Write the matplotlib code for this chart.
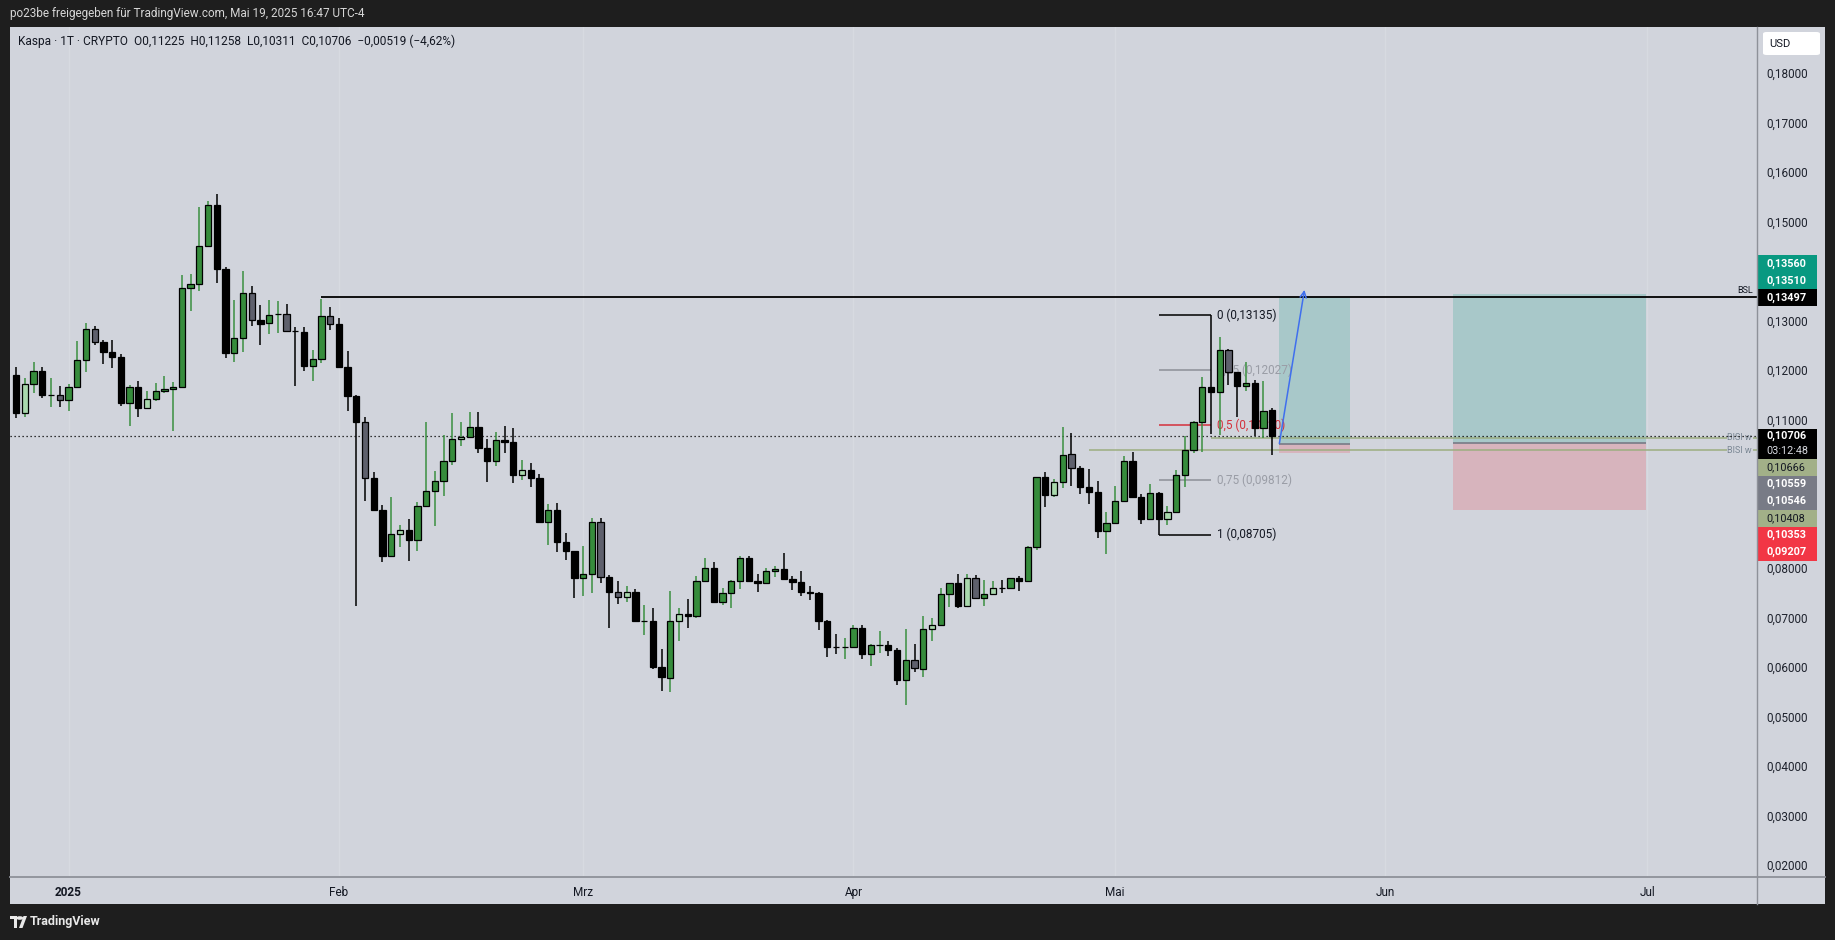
import numpy as np
import pandas as pd
import matplotlib
matplotlib.use("Agg")
import matplotlib.pyplot as plt
import matplotlib.dates as mdates
from matplotlib.patches import Rectangle, FancyBboxPatch, Polygon, Circle
from matplotlib.lines import Line2D

plt.rcParams['font.family'] = ['Roboto', 'DejaVu Sans']

# ---- daily candles, Kaspa 1T, first candle 2024-12-26 ----
first_day = "2024-12-26"
opens = [0.11933, 0.11159, 0.11751, 0.12014, 0.11529, 0.11529, 0.11428, 0.11691, 0.12236, 0.12862,
         0.12600, 0.12398, 0.12297, 0.11361, 0.11691, 0.11260, 0.11448, 0.11610, 0.11650, 0.11684,
         0.13691, 0.13771, 0.14539, 0.15367, 0.14075, 0.12371, 0.12681, 0.13590, 0.13044, 0.12984,
         0.13165, 0.13165, 0.12822, 0.12802, 0.12108, 0.12256, 0.13125, 0.12963, 0.12095, 0.11509,
         0.10984, 0.09852, 0.09206, 0.08270, 0.08714, 0.08801, 0.08592, 0.09279, 0.09589, 0.09791,
         0.10195, 0.10640, 0.10680, 0.10882, 0.10458, 0.10188, 0.10619, 0.10586, 0.09906, 0.10020,
         0.09858, 0.08956, 0.09212, 0.08565, 0.08377, 0.07825, 0.07913, 0.08963, 0.07859, 0.07549,
         0.07448, 0.07549, 0.06963, 0.06963, 0.06041, 0.05812, 0.06963, 0.07104, 0.07057, 0.07764,
         0.08034, 0.07347, 0.07529, 0.07771, 0.08236, 0.07778, 0.07724, 0.07973, 0.08014, 0.07812,
         0.07751, 0.07556, 0.07535, 0.06970, 0.06438, 0.06438, 0.06431, 0.06822, 0.06290, 0.06478,
         0.06478, 0.06384, 0.05764, 0.06175, 0.05993, 0.06794, 0.06882, 0.07508, 0.07731, 0.07259,
         0.07832, 0.07421, 0.07508, 0.07629, 0.07629, 0.07832, 0.07764, 0.08451, 0.09872, 0.09502,
         0.09771, 0.10337, 0.10054, 0.09670, 0.09569, 0.08774, 0.08942, 0.09387, 0.10195, 0.09468,
         0.09017, 0.09549, 0.09017, 0.09165, 0.09912, 0.10417, 0.10983, 0.11690, 0.11589, 0.12437,
         0.11993, 0.11710, 0.11771, 0.10862, 0.11225]
highs = [0.12101, 0.11872, 0.12202, 0.12101, 0.11879, 0.11718, 0.11751, 0.12627, 0.12990, 0.12930,
         0.12647, 0.12647, 0.12364, 0.11738, 0.11819, 0.11617, 0.11778, 0.11920, 0.11798, 0.13960,
         0.13980, 0.15334, 0.15455, 0.15596, 0.14122, 0.13455, 0.14041, 0.13731, 0.13354, 0.13455,
         0.13435, 0.13374, 0.12910, 0.12910, 0.12445, 0.13475, 0.13314, 0.13091, 0.12425, 0.11529,
         0.11091, 0.09980, 0.09314, 0.09475, 0.08909, 0.09030, 0.09374, 0.10990, 0.10000, 0.10727,
         0.11172, 0.10990, 0.11192, 0.11192, 0.10640, 0.10788, 0.10909, 0.10869, 0.10222, 0.10161,
         0.09939, 0.09333, 0.09353, 0.08747, 0.08384, 0.08485, 0.09050, 0.09050, 0.07899, 0.07778,
         0.07677, 0.07610, 0.07293, 0.07232, 0.06404, 0.07562, 0.07232, 0.07414, 0.07879, 0.08243,
         0.08162, 0.07636, 0.07791, 0.08283, 0.08276, 0.07913, 0.08034, 0.08081, 0.08337, 0.07872,
         0.07973, 0.07670, 0.07556, 0.06990, 0.06707, 0.06626, 0.06889, 0.06889, 0.06505, 0.06768,
         0.06566, 0.06411, 0.06808, 0.06505, 0.07071, 0.07030, 0.07636, 0.07731, 0.07919, 0.07919,
         0.07899, 0.07798, 0.07778, 0.07798, 0.07832, 0.07879, 0.08485, 0.09872, 0.09980, 0.09838,
         0.10889, 0.10768, 0.10101, 0.10040, 0.09798, 0.09171, 0.09683, 0.10303, 0.10377, 0.09535,
         0.09730, 0.09562, 0.09293, 0.10020, 0.10700, 0.11010, 0.11899, 0.13135, 0.12693, 0.12458,
         0.12000, 0.12202, 0.11831, 0.11811, 0.11258]
lows = [0.11058, 0.11078, 0.11576, 0.11462, 0.11280, 0.11293, 0.11199, 0.11670, 0.11987, 0.12532,
        0.12149, 0.12068, 0.11300, 0.10896, 0.11078, 0.11239, 0.11401, 0.11563, 0.10795, 0.11684,
        0.13233, 0.13637, 0.14539, 0.13785, 0.12270, 0.12202, 0.12404, 0.12916, 0.12532, 0.12755,
        0.12775, 0.12822, 0.11704, 0.12021, 0.11819, 0.12182, 0.12835, 0.12088, 0.11199, 0.07260,
        0.09381, 0.09179, 0.08149, 0.08250, 0.08464, 0.08182, 0.08384, 0.09259, 0.08889, 0.09495,
        0.10121, 0.10491, 0.10673, 0.10350, 0.09764, 0.10087, 0.10350, 0.09744, 0.09805, 0.09677,
        0.08956, 0.08491, 0.08363, 0.08202, 0.07421, 0.07475, 0.07522, 0.07724, 0.06815, 0.07300,
        0.07354, 0.06956, 0.06673, 0.05987, 0.05556, 0.05535, 0.06566, 0.06815, 0.07017, 0.07764,
        0.07320, 0.07280, 0.07219, 0.07603, 0.07744, 0.07542, 0.07724, 0.07845, 0.07791, 0.07596,
        0.07461, 0.07381, 0.06775, 0.06243, 0.06303, 0.06189, 0.06431, 0.06189, 0.06047, 0.06310,
        0.06263, 0.05663, 0.05259, 0.05926, 0.05838, 0.06552, 0.06855, 0.07239, 0.07219, 0.07259,
        0.07421, 0.07259, 0.07488, 0.07522, 0.07629, 0.07576, 0.07764, 0.08397, 0.09273, 0.09461,
        0.09656, 0.09697, 0.09535, 0.09333, 0.08633, 0.08316, 0.08942, 0.09387, 0.09461, 0.08916,
        0.09017, 0.08705, 0.08902, 0.09138, 0.09663, 0.10350, 0.10384, 0.10740, 0.10720, 0.11730,
        0.11091, 0.11616, 0.10707, 0.10660, 0.10311]
closes = [0.11159, 0.11751, 0.12007, 0.11522, 0.11529, 0.11428, 0.11691, 0.12236, 0.12862, 0.12600,
          0.12391, 0.12290, 0.11361, 0.11691, 0.11260, 0.11448, 0.11610, 0.11650, 0.11691, 0.13691,
          0.13771, 0.14539, 0.15367, 0.14068, 0.12371, 0.12681, 0.13590, 0.13044, 0.12957, 0.13145,
          0.13165, 0.12822, 0.12822, 0.12108, 0.12256, 0.13125, 0.12963, 0.12088, 0.11502, 0.10977,
          0.09852, 0.09199, 0.08270, 0.08721, 0.08801, 0.08592, 0.09286, 0.09589, 0.09791, 0.10195,
          0.10640, 0.10680, 0.10882, 0.10451, 0.10188, 0.10619, 0.10572, 0.09906, 0.10020, 0.09845,
          0.08956, 0.09212, 0.08552, 0.08370, 0.07825, 0.07913, 0.08963, 0.07845, 0.07542, 0.07448,
          0.07549, 0.06956, 0.06963, 0.06027, 0.05825, 0.06963, 0.07104, 0.07057, 0.07771, 0.08034,
          0.07340, 0.07529, 0.07771, 0.08236, 0.07764, 0.07724, 0.07973, 0.08014, 0.07805, 0.07744,
          0.07542, 0.07522, 0.06956, 0.06431, 0.06438, 0.06438, 0.06822, 0.06290, 0.06478, 0.06478,
          0.06370, 0.05764, 0.06175, 0.06014, 0.06801, 0.06882, 0.07508, 0.07731, 0.07259, 0.07832,
          0.07421, 0.07508, 0.07629, 0.07629, 0.07832, 0.07764, 0.08458, 0.09872, 0.09502, 0.09771,
          0.10316, 0.10054, 0.09663, 0.09562, 0.08774, 0.08942, 0.09387, 0.10195, 0.09461, 0.09017,
          0.09549, 0.09017, 0.09165, 0.09912, 0.10417, 0.10983, 0.11690, 0.11589, 0.12437, 0.11993,
          0.11710, 0.11771, 0.10862, 0.11205, 0.10706]
# candle colouring: g = green, l = light green, s = grey, k = black (10 per group)
kinds = "".join(["klgkgsgggs", "kkkgklgggg", "gggkkggskg", "gskkggskkk",
                 "skkglkgggg", "glgkkgkklk", "kgkkkggsks", "lkgkkglkgg",
                 "kgggkkggkk", "kkkkkggkgg", "kkgsglggkl", "sglkgkggkl",
                 "gskkkgggkk", "gklggggkgs", "kgkgk"])

# ---- drawings ----
bsl_price, bsl_start = 0.13497, "2025-01-30"
last_price, countdown = 0.10706, "03:12:48"
fib_from, fib_to = "2025-05-06", "2025-05-12"
fib_levels = ["0", "0,25", "0,5", "0,75", "1"]
fib_prices = [0.13135, 0.12027, 0.10920, 0.09812, 0.08705]
bisi_prices = [0.10666, 0.10408]
bisi_starts = ["2025-05-12", "2025-04-28"]
# long positions: (start, end, entry, target, stop)
positions = [("2025-05-19 19:00", "2025-05-27 22:00", 0.10546, 0.13510, 0.10353),
             ("2025-06-08 19:00", "2025-06-30 22:00", 0.10559, 0.13560, 0.09207)]
arrow_from = ("2025-05-19 20:00", 0.10546)
arrow_to = ("2025-05-22 17:00", 0.13650)
month_ticks = ["2025-01-01", "2025-02-01", "2025-03-01", "2025-04-01",
               "2025-05-01", "2025-06-01", "2025-07-01"]
month_labels = ["2025", "Feb", "Mrz", "Apr", "Mai", "Jun", "Jul"]
price_ticks = [0.02, 0.03, 0.04, 0.05, 0.06, 0.07, 0.08, 0.09,
               0.10, 0.11, 0.12, 0.13, 0.14, 0.15, 0.16, 0.17, 0.18]

BG = "#d1d4dc"
DARK = "#1e1e1e"
W, H = 1835, 940


def d2n(s):
    return mdates.date2num(pd.Timestamp(s))


def fx(px):
    return px / W


def fy(py):
    return 1 - py / H


fig = plt.figure(figsize=(W / 100, H / 100), dpi=100, facecolor=DARK)
fig.patches.append(Rectangle((fx(10), fy(904)), fx(1815), 877 / H,
                             transform=fig.transFigure, facecolor=BG, edgecolor="none", zorder=0))

ax = fig.add_axes([fx(10), fy(876), fx(1747), 849 / H], facecolor=BG)
ax.set_zorder(1)
ymin, ymax = 0.01810, 0.18960
ax.set_ylim(ymin, ymax)
jan1 = d2n("2025-01-01")
ax.set_xlim(jan1 - 6.71, jan1 + 193.6)
for s in ax.spines.values():
    s.set_visible(False)
ax.set_yticks([])
ppu = 849 / (ymax - ymin)  # pixels per price unit

# faint month grid
for m in month_ticks:
    ax.axvline(d2n(m), color="#d7dae1", lw=1, zorder=0.5)

ax.set_xticks([d2n(m) for m in month_ticks])
ax.set_xticklabels(month_labels)
ax.tick_params(axis="x", length=0, pad=7, labelsize=8.5, labelcolor="#131722")
ax.get_xticklabels()[0].set_fontweight("bold")

# candles
dates = pd.date_range(first_day, periods=len(opens), freq="D")
xs = mdates.date2num(dates)
o = np.array(opens)
c = np.array(closes)
face = {"g": "#368c3c", "l": "#a9d8ad", "s": "#5e606c", "k": "#000000"}
wick = {"g": "#3a8f40", "l": "#3a8f40", "s": "#000000", "k": "#000000"}
ax.vlines(xs, lows, highs, colors=[wick[k] for k in kinds], lw=1.1, zorder=4)
ax.bar(xs, np.maximum(np.abs(c - o), 1e-6), bottom=np.minimum(o, c), width=0.72,
       color=[face[k] for k in kinds], edgecolor="black", linewidth=0.9, zorder=5)

# BSL line
ax.hlines(bsl_price, d2n(bsl_start), ax.get_xlim()[1], color="black", lw=1.3, zorder=6)
ax.text(0.9977, bsl_price + 2.5 / ppu, "BSL", transform=ax.get_yaxis_transform(),
        ha="right", va="bottom", fontsize=6.5, color="#131722", zorder=6)

# current price dotted line
ax.axhline(last_price, color="black", lw=0.9, ls=(0, (1, 2.2)), zorder=3)

# BISI w lines
for p, s in zip(bisi_prices, bisi_starts):
    ax.hlines(p, d2n(s), ax.get_xlim()[1], color="#9cae80", lw=1.1, zorder=2.5)
    ax.text(0.9972, p, "BISI w", transform=ax.get_yaxis_transform(), ha="right", va="center",
            fontsize=6.5, color="#7a8794", zorder=2.6,
            bbox=dict(boxstyle="square,pad=0.1", facecolor=BG, edgecolor="none"))

# fib retracement
fib_line_cols = ["#000000", "#8c8f97", "#d4303c", "#8c8f97", "#000000"]
fib_text_cols = ["#131722", "#9a9da6", "#d4303c", "#9a9da6", "#131722"]
for lvl, p, lc, tc in zip(fib_levels, fib_prices, fib_line_cols, fib_text_cols):
    ax.hlines(p, d2n(fib_from), d2n(fib_to), color=lc, lw=1.1, zorder=2)
    ax.text(d2n(fib_to) + 0.7, p, f"{lvl} ({p:.5f})".replace(".", ","), ha="left", va="center",
            fontsize=8.5, color=tc, zorder=2)

# long position tools
for x0, x1, entry, target, stop in positions:
    a, b = d2n(x0), d2n(x1)
    ax.add_patch(Rectangle((a, entry), b - a, target - entry, facecolor="#089981",
                           alpha=0.2, edgecolor="none", zorder=1.5))
    ax.add_patch(Rectangle((a, stop), b - a, entry - stop, facecolor="#f23645",
                           alpha=0.2, edgecolor="none", zorder=1.5))
    ax.hlines(entry, a, b, color="#787b86", lw=1.2, zorder=1.6)

ax.annotate("", xy=(d2n(arrow_to[0]), arrow_to[1]), xytext=(d2n(arrow_from[0]), arrow_from[1]),
            arrowprops=dict(arrowstyle="->", color="#3f6fee", lw=1.1, shrinkA=0, shrinkB=0,
                            mutation_scale=11), zorder=7)

# ---- price scale ----
axp = fig.add_axes([fx(1757), fy(876), fx(68), 849 / H], facecolor=BG)
axp.set_zorder(2)
axp.set_ylim(ymin, ymax)
axp.set_xlim(0, 68)
axp.axis("off")
for p in price_ticks:
    axp.text(9, p, f"{p:.5f}".replace(".", ","), ha="left", va="center",
             fontsize=8.5, color="#1e222d", zorder=1)

tag_h = 17 / ppu


def tag(center, label, fc, tc, h=tag_h):
    axp.add_patch(Rectangle((1, center - h / 2), 59, h, facecolor=fc, edgecolor="none", zorder=3))
    axp.text(9, center, label, ha="left", va="center", fontsize=7.8, color=tc,
             fontweight="bold" if tc == "white" else "normal", zorder=4)


fmt = lambda v: f"{v:.5f}".replace(".", ",")

# upper group: BSL label anchored, targets stacked above it
tag(bsl_price, fmt(bsl_price), "black", "white")
for i, p in enumerate(sorted([positions[0][3], positions[1][3]])):
    tag(bsl_price + (i + 1) * tag_h, fmt(p), "#089981", "white")

# lower group: current price with countdown, then stacked below
cp_top = last_price + 7 / ppu
cp_h = 30 / ppu
axp.add_patch(Rectangle((1, cp_top - cp_h), 59, cp_h, facecolor="black", edgecolor="none", zorder=3))
axp.text(9, last_price, fmt(last_price), ha="left", va="center", fontsize=7.8,
         color="white", fontweight="bold", zorder=4)
axp.text(9, last_price - 15.5 / ppu, countdown, ha="left", va="center", fontsize=7.8,
         color="#d8dae0", zorder=4)
lower = [(bisi_prices[0], "#a2b088", "#131722"),
         (positions[1][2], "#787b86", "white"),
         (positions[0][2], "#787b86", "white"),
         (bisi_prices[1], "#a2b088", "#131722"),
         (positions[0][4], "#f23645", "white"),
         (positions[1][4], "#f23645", "white")]
prev_bottom = cp_top - cp_h
for p, fc, tc in lower:
    center = min(p, prev_bottom - tag_h / 2)
    tag(center, fmt(p), fc, tc)
    prev_bottom = center - tag_h / 2

# USD box
fig.patches.append(FancyBboxPatch((fx(1763), fy(55)), fx(57), 23 / H,
                                  boxstyle="round,pad=0,rounding_size=0.002",
                                  transform=fig.transFigure, facecolor="white",
                                  edgecolor="none", zorder=5))
fig.text(fx(1769), fy(44), "USD", ha="left", va="center", fontsize=8, color="#131722", zorder=6)

# separators
sep = "#8e9199"
fig.add_artist(Line2D([fx(10), fx(1825)], [fy(877), fy(877)], color=sep, lw=1.3, zorder=10))
fig.add_artist(Line2D([fx(1757), fx(1757)], [fy(27), fy(904)], color=sep, lw=1.0, zorder=10))

# header texts
fig.text(fx(10), fy(13), "po23be freigegeben für TradingView.com, Mai 19, 2025 16:47 UTC-4",
         ha="left", va="center", fontsize=8.5, color="#d6d6d6")
header = ("Kaspa · 1T · CRYPTO  O" + fmt(opens[-1]) + "  H" + fmt(highs[-1]) + "  L" +
          fmt(lows[-1]) + "  C" + fmt(closes[-1]) + "  −0,00519 (−4,62%)")
fig.text(fx(18), fy(41), header, ha="left", va="center", fontsize=8.6, color="#131722", zorder=6)

# TradingView footer logo
logo = "#e8e8e8"
fig.patches.append(Rectangle((fx(10), fy(919)), fx(7), 3 / H, transform=fig.transFigure,
                             facecolor=logo, edgecolor="none"))
fig.patches.append(Rectangle((fx(13.5), fy(928)), fx(3.5), 12 / H, transform=fig.transFigure,
                             facecolor=logo, edgecolor="none"))
fig.patches.append(Circle((fx(19.8), fy(918)), 1.8 / H, transform=fig.transFigure,
                          facecolor=logo, edgecolor="none"))
fig.patches.append(Polygon([(fx(19), fy(928)), (fx(23.5), fy(916)), (fx(27), fy(916)),
                            (fx(22.5), fy(928))], closed=True, transform=fig.transFigure,
                           facecolor=logo, edgecolor="none"))
fig.text(fx(30), fy(922), "TradingView", ha="left", va="center", fontsize=9,
         color=logo, fontweight="bold")

fig.savefig("out.png", dpi=100, facecolor=DARK)
